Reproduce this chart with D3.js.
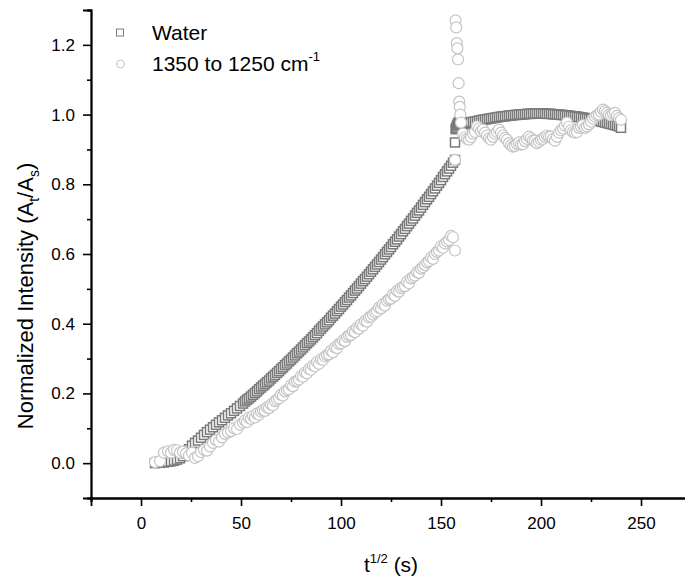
<!doctype html>
<html>
  <head>
    <meta charset="utf-8">
    <title>Normalized intensity vs t^1/2</title>
    <script src="https://cdnjs.cloudflare.com/ajax/libs/d3/7.8.5/d3.min.js"></script>
    <style>
      body { margin: 0; background: #fff; }
      text { font-family: Arial, "Liberation Sans", sans-serif; }
    </style>
  </head>
  <body>
    <div id="chart"></div>
    <script>
      // t^(1/2) values, shared by both series (one spectrum each)
      const tHalf = [
        7, 9.5, 11.5, 13.5, 15, 16.5, 18, 19.5, 21, 22.5, 24, 25.5, 27, 28.5, 30, 31.5, 33, 34.5, 36, 37.5,
        39, 40.5, 42, 43.5, 45, 46.5, 48, 49.5, 51,
        52, 53, 54, 55, 56, 57, 58, 59, 60, 61, 62, 63, 64, 65, 66, 67, 68, 69, 70, 71,
        72, 73, 74, 75, 76, 77, 78, 79, 80, 81, 82, 83, 84, 85, 86, 87, 88, 89, 90, 91,
        92, 93, 94, 95, 96, 97, 98, 99, 100, 101, 102, 103, 104, 105, 106, 107, 108, 109, 110, 111,
        112, 113, 114, 115, 116, 117, 118, 119, 120, 121, 122, 123, 124, 125, 126, 127, 128, 129, 130, 131,
        132, 133, 134, 135, 136, 137, 138, 139, 140, 141, 142, 143, 144, 145, 146, 147, 148, 149, 150, 151,
        152, 153, 154, 155, 156, 157,
        157, 157.3, 157.6, 157.9, 158.2, 158.5, 158.8, 159.1, 159.4, 159.7, 160,
        161, 162, 163, 164, 165, 166, 167, 168, 169, 170, 171, 172, 173, 174, 175, 176, 177, 178, 179, 180,
        181, 182, 183, 184, 185, 186, 187, 188, 189, 190, 191, 192, 193, 194, 195, 196, 197, 198, 199, 200,
        201, 202, 203, 204, 205, 206, 207, 208, 209, 210, 211, 212, 213, 214, 215, 216, 217, 218, 219, 220,
        221, 222, 223, 224, 225, 226, 227, 228, 229, 230, 231, 232, 233, 234, 235, 236, 237, 238, 239, 240
      ];

      const water = [
        0.000, 0.001, 0.002, 0.004, 0.005, 0.007, 0.010, 0.014, 0.020, 0.028, 0.040, 0.050, 0.058, 0.065, 0.073, 0.081, 0.089, 0.096, 0.103, 0.110,
        0.117, 0.123, 0.130, 0.137, 0.143, 0.150, 0.157, 0.164, 0.171,
        0.177, 0.182, 0.186, 0.191, 0.196, 0.201, 0.206, 0.212, 0.217, 0.222, 0.227, 0.232, 0.237, 0.243, 0.248, 0.253, 0.259, 0.264, 0.270, 0.275,
        0.281, 0.286, 0.292, 0.297, 0.303, 0.309, 0.315, 0.320, 0.326, 0.332, 0.338, 0.344, 0.349, 0.355, 0.361, 0.367, 0.373, 0.380, 0.386, 0.392,
        0.398, 0.404, 0.410, 0.417, 0.423, 0.429, 0.436, 0.442, 0.449, 0.455, 0.462, 0.468, 0.475, 0.481, 0.488, 0.495, 0.501, 0.508, 0.515, 0.522,
        0.528, 0.535, 0.542, 0.549, 0.556, 0.563, 0.570, 0.577, 0.584, 0.591, 0.599, 0.606, 0.613, 0.620, 0.628, 0.635, 0.642, 0.650, 0.657, 0.665,
        0.672, 0.680, 0.687, 0.695, 0.702, 0.710, 0.718, 0.725, 0.733, 0.741, 0.749, 0.757, 0.764, 0.772, 0.780, 0.788, 0.796, 0.804, 0.812, 0.821,
        0.829, 0.837, 0.845, 0.853, 0.862, 0.870,
        0.920, 0.958, 0.962, 0.966, 0.970, 0.974, 0.977, 0.975, 0.979, 0.976, 0.980,
        0.972, 0.973, 0.975, 0.976, 0.978, 0.979, 0.980, 0.981, 0.983, 0.984, 0.985, 0.986, 0.987, 0.988, 0.989, 0.990, 0.991, 0.992, 0.993, 0.994,
        0.995, 0.995, 0.996, 0.997, 0.998, 0.998, 0.999, 0.999, 1.000, 1.000, 1.001, 1.001, 1.002, 1.002, 1.002, 1.003, 1.003, 1.003, 1.003, 1.003,
        1.003, 1.003, 1.002, 1.002, 1.002, 1.001, 1.001, 1.000, 1.000, 0.999, 0.999, 0.998, 0.998, 0.997, 0.996, 0.995, 0.995, 0.994, 0.993, 0.992,
        0.991, 0.990, 0.989, 0.988, 0.987, 0.986, 0.985, 0.983, 0.982, 0.980, 0.979, 0.977, 0.976, 0.974, 0.973, 0.971, 0.970, 0.968, 0.966, 0.962
      ];

      // 1350 to 1250 cm-1 band
      const band = [
        0.003, 0.006, 0.030, 0.034, 0.030, 0.038, 0.037, 0.030, 0.033, 0.028, 0.022, 0.030, 0.015, 0.020, 0.032, 0.038, 0.036, 0.048, 0.058, 0.066,
        0.062, 0.074, 0.084, 0.088, 0.092, 0.100, 0.098, 0.110, 0.116,
        0.122, 0.118, 0.130, 0.127, 0.135, 0.131, 0.142, 0.139, 0.148, 0.152, 0.150, 0.160, 0.158, 0.168, 0.166, 0.178, 0.182, 0.186, 0.196, 0.194,
        0.206, 0.210, 0.212, 0.224, 0.221, 0.234, 0.236, 0.240, 0.250, 0.248, 0.260, 0.258, 0.270, 0.268, 0.280, 0.278, 0.290, 0.285, 0.298, 0.296,
        0.306, 0.310, 0.312, 0.322, 0.318, 0.332, 0.330, 0.342, 0.344, 0.352, 0.350, 0.362, 0.366, 0.368, 0.378, 0.376, 0.388, 0.386, 0.398, 0.394,
        0.408, 0.406, 0.418, 0.420, 0.426, 0.432, 0.436, 0.446, 0.444, 0.456, 0.452, 0.466, 0.470, 0.472, 0.484, 0.480, 0.494, 0.492, 0.502, 0.506,
        0.508, 0.520, 0.516, 0.530, 0.534, 0.538, 0.548, 0.546, 0.558, 0.562, 0.568, 0.576, 0.580, 0.590, 0.586, 0.600, 0.606, 0.610, 0.622, 0.618,
        0.630, 0.636, 0.640, 0.652, 0.648, 0.610,
        0.870, 1.270, 1.250, 1.205, 1.190, 1.158, 1.090, 1.037, 1.022, 1.000, 0.977,
        0.945, 0.935, 0.930, 0.928, 0.935, 0.945, 0.950, 0.966, 0.960, 0.952, 0.957, 0.948, 0.940, 0.932, 0.928, 0.936, 0.945, 0.950, 0.957, 0.948,
        0.940, 0.933, 0.928, 0.918, 0.912, 0.908, 0.910, 0.916, 0.920, 0.914, 0.915, 0.924, 0.930, 0.937, 0.932, 0.926, 0.925, 0.918, 0.922, 0.928,
        0.930, 0.936, 0.940, 0.937, 0.937, 0.930, 0.925, 0.936, 0.948, 0.955, 0.960, 0.968, 0.977, 0.965, 0.955, 0.950, 0.948, 0.950, 0.962, 0.966,
        0.970, 0.962, 0.966, 0.972, 0.980, 0.988, 0.994, 0.998, 1.000, 1.008, 1.014, 1.010, 1.005, 1.000, 0.998, 1.002, 1.005, 0.996, 0.990, 0.985
      ];

      const xMajor = [0, 50, 100, 150, 200, 250];
      const xMinor = [-25, 25, 75, 125, 175, 225, 275];
      const yMajor = [0.0, 0.2, 0.4, 0.6, 0.8, 1.0, 1.2];
      const yMinor = [-0.1, 0.1, 0.3, 0.5, 0.7, 0.9, 1.1, 1.3];

      const width = 685, height = 578;

      const x = d3.scaleLinear().domain([-25, 275]).range([91, 691]);
      const y = d3.scaleLinear().domain([-0.1, 1.3]).range([498, 10]);

      const svg = d3.select('#chart')
        .append('svg')
        .attr('width', width)
        .attr('height', height);

      // water squares first, circles drawn over them
      const sq = 9;
      svg.append('g')
        .selectAll('rect')
        .data(tHalf.map((t, i) => [t, water[i]]))
        .join('rect')
        .attr('x', d => x(d[0]) - sq / 2)
        .attr('y', d => y(d[1]) - sq / 2)
        .attr('width', sq)
        .attr('height', sq)
        .attr('fill', '#fff')
        .attr('stroke', '#7a7a7a')
        .attr('stroke-width', 1.5);

      svg.append('g')
        .selectAll('circle')
        .data(tHalf.map((t, i) => [t, band[i]]))
        .join('circle')
        .attr('cx', d => x(d[0]))
        .attr('cy', d => y(d[1]))
        .attr('r', 5.5)
        .attr('fill', '#fff')
        .attr('stroke', '#c4c4c4')
        .attr('stroke-width', 1.2);

      // axes (left and bottom only)
      svg.append('g')
        .attr('transform', `translate(0,${y(-0.1)})`)
        .call(d3.axisBottom(x).tickValues(xMajor).tickSize(8).tickPadding(11).tickFormat(d3.format('d')));
      svg.append('g')
        .attr('transform', `translate(0,${y(-0.1)})`)
        .call(d3.axisBottom(x).tickValues(xMinor).tickSize(4).tickFormat(''));

      svg.append('g')
        .attr('transform', `translate(${x(-25)},0)`)
        .call(d3.axisLeft(y).tickValues(yMajor).tickSize(8).tickPadding(8).tickFormat(d3.format('.1f')));
      svg.append('g')
        .attr('transform', `translate(${x(-25)},0)`)
        .call(d3.axisLeft(y).tickValues(yMinor).tickSize(4).tickFormat(''));

      svg.selectAll('.domain').attr('stroke', '#000').attr('stroke-width', 1.8);
      svg.selectAll('.tick line').attr('stroke', '#000').attr('stroke-width', 1.6);
      svg.selectAll('.tick text').attr('font-size', 17).attr('fill', '#000')
        .style('font-family', 'Arial, "Liberation Sans", sans-serif');

      // axis titles
      const xt = svg.append('text')
        .attr('x', 391)
        .attr('y', 572)
        .attr('text-anchor', 'middle')
        .attr('font-size', 21);
      xt.append('tspan').text('t');
      xt.append('tspan').attr('dy', -9).attr('font-size', 13).text('1/2');
      xt.append('tspan').attr('dy', 9).text(' (s)');

      const yt = svg.append('text')
        .attr('transform', 'translate(33,296) rotate(-90)')
        .attr('text-anchor', 'middle')
        .attr('font-size', 22);
      yt.append('tspan').text('Normalized Intensity (A');
      yt.append('tspan').attr('dy', 6).attr('font-size', 14).text('t');
      yt.append('tspan').attr('dy', -6).text('/A');
      yt.append('tspan').attr('dy', 6).attr('font-size', 14).text('s');
      yt.append('tspan').attr('dy', -6).text(')');

      // legend
      const legend = svg.append('g');
      legend.append('rect')
        .attr('x', 116.5).attr('y', 29).attr('width', 7).attr('height', 7)
        .attr('fill', '#fff').attr('stroke', '#7a7a7a');
      legend.append('text')
        .attr('x', 152).attr('y', 40).attr('font-size', 21).text('Water');
      legend.append('circle')
        .attr('cx', 120.5).attr('cy', 64).attr('r', 4)
        .attr('fill', '#fff').attr('stroke', '#c4c4c4');
      const lt = legend.append('text')
        .attr('x', 152).attr('y', 71).attr('font-size', 21);
      lt.append('tspan').text('1350 to 1250 cm');
      lt.append('tspan').attr('dy', -10).attr('font-size', 13).text('-1');
    </script>
  </body>
</html>
